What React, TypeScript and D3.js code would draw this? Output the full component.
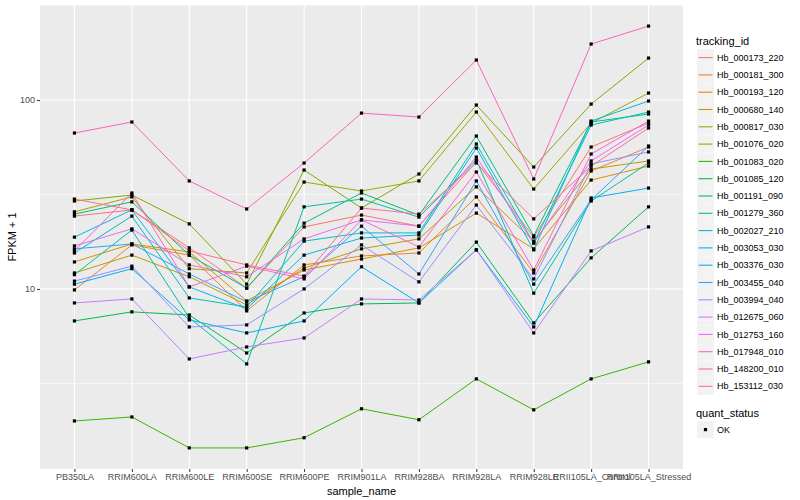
import * as d3 from 'd3';
import { useCallback } from 'react';

const samples = [
  'PB350LA',
  'RRIM600LA',
  'RRIM600LE',
  'RRIM600SE',
  'RRIM600PE',
  'RRIM901LA',
  'RRIM928BA',
  'RRIM928LA',
  'RRIM928LE',
  'RRII105LA_Control',
  'RRII105LA_Stressed',
];

const trackingIds = [
  'Hb_000173_220',
  'Hb_000181_300',
  'Hb_000193_120',
  'Hb_000680_140',
  'Hb_000817_030',
  'Hb_001076_020',
  'Hb_001083_020',
  'Hb_001085_120',
  'Hb_001191_090',
  'Hb_001279_360',
  'Hb_002027_210',
  'Hb_003053_030',
  'Hb_003376_030',
  'Hb_003455_040',
  'Hb_003994_040',
  'Hb_012675_060',
  'Hb_012753_160',
  'Hb_017948_010',
  'Hb_148200_010',
  'Hb_153112_030',
];

// FPKM + 1, one row per tracking id, one value per sample
const fpkm = [
  [24.3, 26.2, 16.5, 10.1, 21.3, 24.6, 21.5, 47.0, 18.8, 56.4, 75.5],
  [9.88, 17.1, 15.1, 7.65, 13.4, 14.95, 15.5, 30.7, 12.15, 42.1, 56.4],
  [13.9, 17.3, 15.7, 8.64, 12.6, 14.4, 16.5, 25.2, 16.3, 37.7, 44.7],
  [12.15, 15.1, 11.6, 8.23, 12.9, 16.3, 18.4, 34.7, 17.9, 43.1, 47.6],
  [25.6, 30.7, 12.8, 12.15, 36.8, 33.0, 37.3, 86.4, 33.8, 75.5, 108.9],
  [29.2, 31.4, 22.1, 10.6, 42.6, 26.8, 40.6, 94.1, 44.2, 95.2, 166.8],
  [2.0, 2.1, 1.44, 1.44, 1.63, 2.32, 2.03, 3.34, 2.29, 3.34, 4.11],
  [6.77, 7.56, 7.28, 4.58, 7.46, 8.33, 8.43, 17.7, 6.61, 14.6, 27.2],
  [24.9, 28.9, 15.1, 10.1, 22.3, 32.2, 24.6, 64.5, 19.1, 76.5, 84.3],
  [11.9, 20.5, 7.03, 4.01, 27.2, 29.9, 24.0, 48.1, 9.5, 29.2, 46.4],
  [15.5, 24.3, 8.96, 8.03, 17.9, 19.8, 19.8, 58.5, 17.5, 73.7, 86.4],
  [18.8, 26.2, 10.25, 7.84, 15.1, 18.6, 19.3, 55.7, 16.1, 77.4, 98.8],
  [10.6, 12.8, 6.85, 5.85, 6.77, 13.1, 8.43, 16.1, 6.29, 30.3, 34.2],
  [16.3, 17.3, 12.0, 8.54, 11.6, 21.5, 12.0, 37.3, 10.6, 29.6, 57.1],
  [11.0, 13.2, 6.29, 6.45, 10.0, 17.1, 10.9, 27.8, 11.3, 45.9, 53.1],
  [8.43, 8.85, 4.26, 4.93, 5.5, 8.85, 8.74, 16.1, 5.85, 15.9, 21.3],
  [16.9, 20.8, 13.4, 11.6, 18.4, 23.2, 21.5, 49.9, 17.5, 47.6, 73.7],
  [15.9, 32.2, 10.25, 13.2, 11.3, 23.2, 16.7, 41.6, 12.6, 51.8, 77.4],
  [66.9, 76.5, 37.3, 26.5, 46.4, 85.3, 81.3, 162.8, 38.2, 197.9, 246.3],
  [29.9, 26.2, 15.9, 13.4, 11.7, 26.8, 24.9, 46.4, 23.5, 44.7, 71.1],
];

const colors = [
  '#F8766D', '#EA8331', '#D89000', '#C09B00', '#A3A500',
  '#7CAE00', '#39B600', '#00BB4E', '#00BF7D', '#00C1A3',
  '#00BFC4', '#00BAE0', '#00B0F6', '#35A2FF', '#9590FF',
  '#C77CFF', '#E76BF3', '#FA62DB', '#FF62BC', '#FF6C91',
];

const yTicks = [10, 100];
const yMinor = [Math.sqrt(10), Math.sqrt(1000), Math.sqrt(100000)];
const quantStatus = ['OK'];

const width = 800;
const height = 500;
const panel = { left: 40, right: 683, top: 5, bottom: 469 };
const font = '"Liberation Sans", Arial, sans-serif';
const pt = 3.2;

const App = () => {
  const draw = useCallback((ref: SVGSVGElement | null) => {
    if (!ref) return;

    const svg = d3.select(ref);
    svg.selectAll('*').remove();

    const xScale = d3
      .scalePoint<string>()
      .domain(samples)
      .range([panel.left, panel.right])
      .padding(0.6);

    const all = fpkm.flat();
    const lo = Math.log10(d3.min(all) as number);
    const hi = Math.log10(d3.max(all) as number);
    const pad = (hi - lo) * 0.05;
    const yScale = d3
      .scaleLog()
      .domain([10 ** (lo - pad), 10 ** (hi + pad)])
      .range([panel.bottom, panel.top]);

    // panel background + grid
    svg
      .append('rect')
      .attr('x', panel.left)
      .attr('y', panel.top)
      .attr('width', panel.right - panel.left)
      .attr('height', panel.bottom - panel.top)
      .attr('fill', '#EBEBEB');

    const grid = svg.append('g');
    grid
      .selectAll('line.minor')
      .data(yMinor.filter((v) => v <= yScale.domain()[1]))
      .join('line')
      .attr('x1', panel.left)
      .attr('x2', panel.right)
      .attr('y1', (d) => yScale(d))
      .attr('y2', (d) => yScale(d))
      .attr('stroke', 'white')
      .attr('stroke-width', 0.55);
    grid
      .selectAll('line.ymajor')
      .data(yTicks)
      .join('line')
      .attr('x1', panel.left)
      .attr('x2', panel.right)
      .attr('y1', (d) => yScale(d))
      .attr('y2', (d) => yScale(d))
      .attr('stroke', 'white')
      .attr('stroke-width', 1.1);
    grid
      .selectAll('line.xmajor')
      .data(samples)
      .join('line')
      .attr('x1', (d) => xScale(d) as number)
      .attr('x2', (d) => xScale(d) as number)
      .attr('y1', panel.top)
      .attr('y2', panel.bottom)
      .attr('stroke', 'white')
      .attr('stroke-width', 1.1);

    // series lines
    const line = d3
      .line<number>()
      .x((_, i) => xScale(samples[i]) as number)
      .y((d) => yScale(d));

    svg
      .append('g')
      .selectAll('path')
      .data(fpkm)
      .join('path')
      .attr('d', (d) => line(d))
      .attr('fill', 'none')
      .attr('stroke', (_, i) => colors[i])
      .attr('stroke-width', 1);

    // points
    const pts = fpkm.flatMap((row) => row.map((v, j) => ({ s: samples[j], v })));
    svg
      .append('g')
      .selectAll('rect')
      .data(pts)
      .join('rect')
      .attr('x', (d) => (xScale(d.s) as number) - pt / 2)
      .attr('y', (d) => yScale(d.v) - pt / 2)
      .attr('width', pt)
      .attr('height', pt)
      .attr('fill', 'black');

    // axes
    const yAxis = svg
      .append('g')
      .attr('transform', `translate(${panel.left},0)`)
      .call(d3.axisLeft(yScale).tickValues(yTicks).tickFormat(d3.format('d')).tickSize(3).tickPadding(2));
    yAxis.select('.domain').remove();
    yAxis.selectAll('line').attr('stroke', '#333333');
    yAxis.selectAll('text').attr('fill', '#4D4D4D').style('font', `9px ${font}`);

    const xAxis = svg
      .append('g')
      .attr('transform', `translate(0,${panel.bottom})`)
      .call(d3.axisBottom(xScale).tickSize(3).tickPadding(2));
    xAxis.select('.domain').remove();
    xAxis.selectAll('line').attr('stroke', '#333333');
    xAxis.selectAll('text').attr('fill', '#4D4D4D').style('font', `9px ${font}`);

    svg
      .append('text')
      .attr('x', (panel.left + panel.right) / 2)
      .attr('y', 495)
      .attr('text-anchor', 'middle')
      .style('font', `11px ${font}`)
      .text('sample_name');

    svg
      .append('text')
      .attr('transform', `translate(16,${(panel.top + panel.bottom) / 2}) rotate(-90)`)
      .attr('text-anchor', 'middle')
      .style('font', `11px ${font}`)
      .text('FPKM + 1');

    // legend
    const legend = svg.append('g').attr('transform', 'translate(696,0)');
    legend
      .append('text')
      .attr('x', 0)
      .attr('y', 44.5)
      .style('font', `11px ${font}`)
      .text('tracking_id');

    const keys = legend
      .selectAll('g.key')
      .data(trackingIds)
      .join('g')
      .attr('transform', (_, i) => `translate(0,${49 + i * 17.3})`);
    keys.append('rect').attr('x', 1).attr('width', 17).attr('height', 17).attr('fill', '#F2F2F2');
    keys
      .append('line')
      .attr('x1', 2.5)
      .attr('x2', 16.5)
      .attr('y1', 8.6)
      .attr('y2', 8.6)
      .attr('stroke', (_, i) => colors[i])
      .attr('stroke-width', 1.1);
    keys
      .append('text')
      .attr('x', 21)
      .attr('y', 11.8)
      .style('font', `9px ${font}`)
      .text((d) => d);

    legend
      .append('text')
      .attr('x', 0)
      .attr('y', 416.5)
      .style('font', `11px ${font}`)
      .text('quant_status');

    const ok = legend
      .selectAll('g.ok')
      .data(quantStatus)
      .join('g')
      .attr('transform', 'translate(0,421)');
    ok.append('rect').attr('x', 1).attr('width', 17).attr('height', 17).attr('fill', '#F2F2F2');
    ok.append('rect')
      .attr('x', 9.5 - pt / 2)
      .attr('y', 8.6 - pt / 2)
      .attr('width', pt)
      .attr('height', pt)
      .attr('fill', 'black');
    ok.append('text')
      .attr('x', 21)
      .attr('y', 11.8)
      .style('font', `9px ${font}`)
      .text((d) => d);
  }, []);

  return (
    <svg
      width={width}
      height={height}
      ref={draw}
      style={{ position: 'absolute', left: 0, top: 0, background: 'white' }}
    ></svg>
  );
};

export default App;
